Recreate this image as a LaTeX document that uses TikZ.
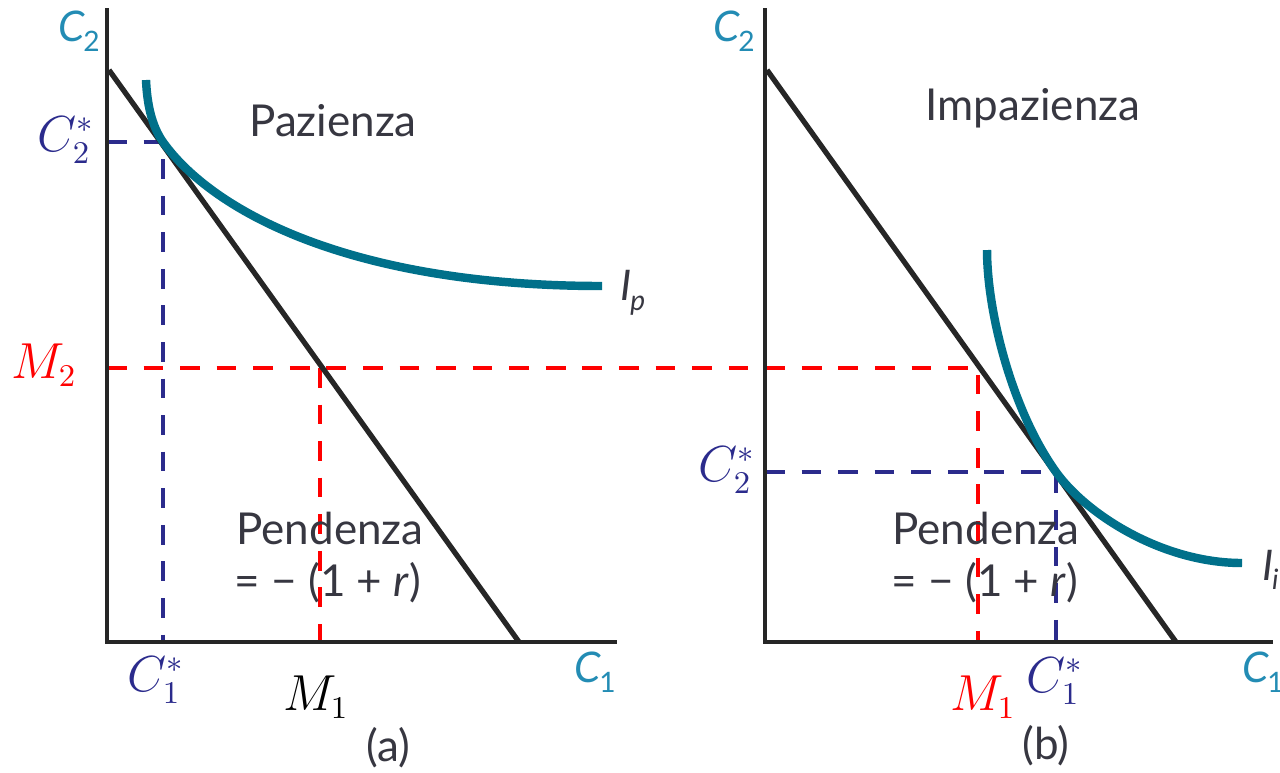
\documentclass[tikz,border=0pt]{standalone}
\usepackage{fontspec}
\setmainfont{Lato}
\usetikzlibrary{positioning}

\definecolor{tealcurve}{RGB}{0,112,138}
\definecolor{tealtext}{RGB}{35,140,180}
\definecolor{navydash}{RGB}{43,43,140}
\definecolor{graytext}{RGB}{55,55,65}

\newcommand{\axislab}[2]{\textit{#1}\kern-0.5pt\raisebox{-0.45ex}{\footnotesize #2}}

\begin{document}
\begin{tikzpicture}[
	  x=0.01cm, y=-0.01cm,
	  axis/.style={draw=black!85, line width=1.3pt},
	  budget/.style={draw=black!85, line width=1.5pt},
	  indiff/.style={draw=tealcurve, line width=2.4pt},
	  guideblue/.style={draw=navydash, line width=1.4pt, dash pattern=on 5.6pt off 4.8pt},
	  guidered/.style={draw=red, line width=1.4pt, dash pattern=on 5.6pt off 4.8pt},
	  axislabel/.style={inner sep=0pt, text=tealtext, font=\fontsize{12}{14}\selectfont},
	  mathlabel/.style={inner sep=0pt, font=\fontsize{13.5}{15}\selectfont},
	  textlabel/.style={inner sep=0pt, text=graytext, font=\fontsize{12.5}{15}\selectfont, align=center}
	]

	\useasboundingbox (0,0) rectangle (1280,772);

	\coordinate (topA) at (107,8);
	\coordinate (originA) at (107,642);
	\coordinate (endA) at (617,642);
	\coordinate (budgetA1) at (109,70);
	\coordinate (budgetA2) at (519,642);
	\coordinate (tangA) at (163,142);
	\coordinate (redA) at (320,368);
	\coordinate (ipStart) at (146,80);
	\coordinate (ipEnd) at (602,286);

	\coordinate (topB) at (765,8);
	\coordinate (originB) at (765,642);
	\coordinate (endB) at (1273,642);
	\coordinate (budgetB1) at (767,70);
	\coordinate (budgetB2) at (1176,642);
	\coordinate (tangB) at (1056,472);
	\coordinate (redB) at (978,368);
	\coordinate (iiStart) at (987,250);
	\coordinate (iiEnd) at (1242,563);

	\draw [guideblue] (originA |- tangA) -- (tangA) -- (tangA |- originA);
	\draw [guidered] (originA |- redA) -- (redB) -- (redB |- originB);
	\draw [guidered] (redA) -- (redA |- originA);
	\draw [guideblue] (originB |- tangB) -- (tangB) -- (tangB |- originB);

	\draw [budget] (budgetA1) -- (budgetA2);
	\draw [budget] (budgetB1) -- (budgetB2);

	\draw [indiff] (ipStart) .. controls (147,102) and (151,125) .. (tangA) .. controls (213,212) and (352,286) .. (ipEnd);
	\draw [indiff] (iiStart) .. controls (987,310) and (1011,409) .. (tangB) .. controls (1086,514) and (1162,563) .. (iiEnd);

	\draw [axis] (topA) |- (endA);
	\draw [axis] (topB) |- (endB);

	\node (c2a) [axislabel] at (79,31) {\axislab{C}{2}};
	\node (c1a) [axislabel] at (595,672) {\axislab{C}{1}};
	\node (ip) [axislabel, text=graytext] at (633,293) {\axislab{I}{\textit{p}}};
	\node (c2stara) [mathlabel, text=navydash] at (66,140) {$C_2^*$};
	\node (m2) [mathlabel, text=red] at (44,365) {$M_2$};
	\node (c1stara) [mathlabel, text=navydash] at (156,680) {$C_1^*$};
	\node (m1a) [mathlabel] at (316,697) {$M_1$};
	\node (pazienza) [textlabel] at (333,121) {Pazienza};
	\node (pendenzaa) [textlabel] at (330,528) {Pendenza};
	\node (slopea) [textlabel] at (328,583) {= − (1 + \textit{r})};
	\node (capa) [textlabel] at (388,748) {(a)};

	\node (c2b) [axislabel] at (734,31) {\axislab{C}{2}};
	\node (c1b) [axislabel] at (1263,672) {\axislab{C}{1}};
	\node (ii) [axislabel, text=graytext, anchor=west] at (1262,570) {\axislab{I}{\textit{i}}};
	\node (c2starb) [mathlabel, text=navydash] at (727,470) {$C_2^*$};
	\node (m1b) [mathlabel, text=red] at (983,697) {$M_1$};
	\node (c1starb) [mathlabel, text=navydash] at (1055,681) {$C_1^*$};
	\node (impazienza) [textlabel] at (1033,108) {Impazienza};
	\node (pendenzab) [textlabel] at (986,528) {Pendenza};
	\node (slopeb) [textlabel] at (985,583) {= − (1 + \textit{r})};
	\node (capb) [textlabel] at (1046,746) {(b)};

\end{tikzpicture}
\end{document}
